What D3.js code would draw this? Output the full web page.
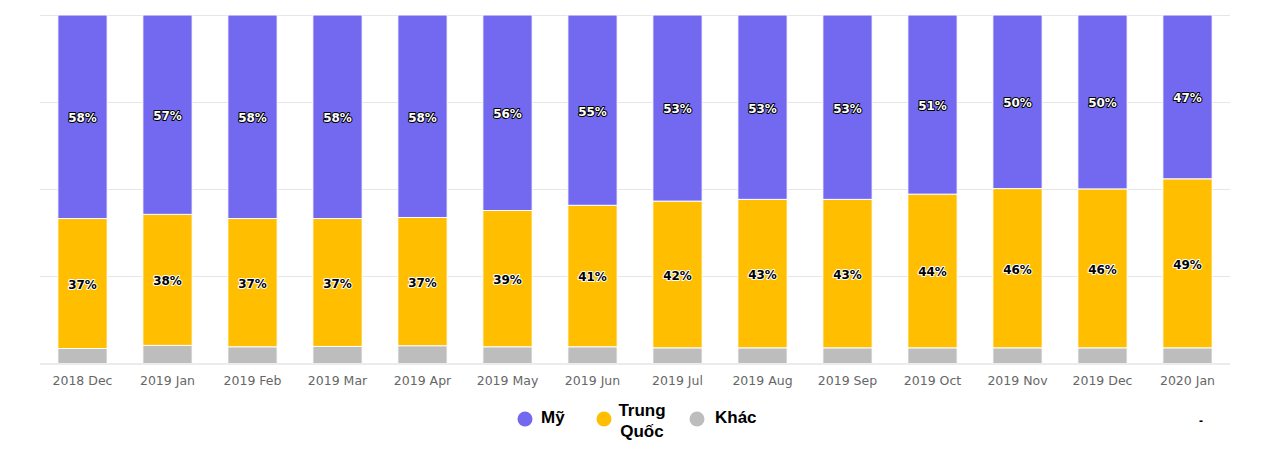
<!DOCTYPE html>
<html>
<head>
<meta charset="utf-8">
<script src="https://cdn.jsdelivr.net/npm/d3@7"></script>
<style>
  html, body { margin: 0; padding: 0; background: #fff; }
  svg { display: block; }
</style>
</head>
<body>
<svg id="chart" width="1262" height="459"></svg>
<script>
const categories = ["2018 Dec","2019 Jan","2019 Feb","2019 Mar","2019 Apr","2019 May","2019 Jun","2019 Jul","2019 Aug","2019 Sep","2019 Oct","2019 Nov","2019 Dec","2020 Jan"];
const seriesNames = ["Mỹ", "Trung Quốc", "Khác"];
const my        = [58.4, 57.2, 58.4, 58.4, 58.1, 56.1, 54.6, 53.4, 52.9, 52.9, 51.4, 49.8, 49.9, 47.0];
const trungQuoc = [37.3, 37.6, 36.8, 36.7, 36.8, 39.1, 40.6, 42.1, 42.6, 42.6, 44.1, 45.7, 45.6, 48.5];
const khac      = [4.3, 5.2, 4.8, 4.9, 5.1, 4.8, 4.8, 4.5, 4.5, 4.5, 4.5, 4.5, 4.5, 4.5];
const yTicks = [0, 25, 50, 75, 100];
const colors = ["#7369F0", "#FFBF00", "#BDBDBD"];

(function () {
const svg = d3.select("#chart");
const pLeft = 40, pRight = 1230, pTop = 15, pBottom = 363.5;

const x = d3.scaleBand().domain(categories).range([pLeft, pRight]).paddingInner(0.42).paddingOuter(0.21);
const y = d3.scaleLinear().domain([0, 100]).range([pBottom, pTop]);

// gridlines
svg.append("g").selectAll("line").data(yTicks.filter(d => d > 0)).join("line")
  .attr("x1", pLeft).attr("x2", pRight)
  .attr("y1", d => Math.round(y(d)) + 0.5).attr("y2", d => Math.round(y(d)) + 0.5)
  .attr("stroke", "#e6e6e6").attr("stroke-width", 1);

const rows = categories.map((c, i) => ({ cat: c, "Mỹ": my[i], "Trung Quốc": trungQuoc[i], "Khác": khac[i] }));
const stackKeys = ["Khác", "Trung Quốc", "Mỹ"];
const stack = d3.stack().keys(stackKeys).offset(d3.stackOffsetExpand);
const layers = stack(rows);
const colorOf = { "Mỹ": colors[0], "Trung Quốc": colors[1], "Khác": colors[2] };
const yp = d3.scaleLinear().domain([0, 1]).range([pBottom, pTop]);

const g = svg.append("g");
layers.forEach(layer => {
  g.append("g").selectAll("rect").data(layer).join("rect")
    .attr("x", d => x(d.data.cat))
    .attr("width", x.bandwidth())
    .attr("y", d => yp(d[1]))
    .attr("height", d => yp(d[0]) - yp(d[1]))
    .attr("fill", colorOf[layer.key])
    .attr("stroke", "#ffffff").attr("stroke-width", 1);
});

// baseline
svg.append("line").attr("x1", pLeft).attr("x2", pRight)
  .attr("y1", pBottom + 0.5).attr("y2", pBottom + 0.5)
  .attr("stroke", "#d8d8d8").attr("stroke-width", 1);

// data labels
const labelFont = "'DejaVu Sans', sans-serif";
layers.filter(l => l.key !== "Khác").forEach(layer => {
  const isMy = layer.key === "Mỹ";
  g.append("g").selectAll("text").data(layer).join("text")
    .attr("x", d => x(d.data.cat) + x.bandwidth() / 2)
    .attr("y", d => (yp(d[0]) + yp(d[1])) / 2)
    .attr("dy", "0.45em")
    .attr("text-anchor", "middle")
    .attr("font-family", labelFont)
    .attr("font-size", "12px")
    .attr("font-weight", "bold")
    .attr("fill", isMy ? "#ffffff" : "#000000")
    .attr("stroke", isMy ? "#000000" : "#ffffff")
    .attr("stroke-width", 2)
    .attr("stroke-linejoin", "round")
    .attr("paint-order", "stroke")
    .text(d => Math.round((d[1] - d[0]) * 100) + "%");
});

// x axis labels
const xAxis = d3.axisBottom(x).tickSize(0).tickPadding(13);
const ax = svg.append("g").attr("transform", `translate(0,${pBottom})`).call(xAxis);
ax.select(".domain").remove();
ax.selectAll("text")
  .attr("font-family", labelFont)
  .attr("font-size", "12.5px")
  .attr("fill", "#666666");

// legend
const legend = svg.append("g").attr("font-family", "'Liberation Sans', Arial, sans-serif")
  .attr("font-weight", "bold").attr("font-size", "17px").attr("fill", "#000");
const legendItems = [
  { cx: 525, tx: 541, lines: ["Mỹ"] },
  { cx: 604, tx: 642, lines: ["Trung", "Quốc"], center: true },
  { cx: 697, tx: 715, lines: ["Khác"] }
];
legendItems.forEach((it, i) => {
  legend.append("circle").attr("cx", it.cx).attr("cy", 419).attr("r", 7.5).attr("fill", colors[i]);
  const t = legend.append("text")
    .attr("x", it.tx)
    .attr("text-anchor", it.center ? "middle" : "start");
  if (it.lines.length === 1) {
    t.attr("y", 423).text(seriesNames[i]);
  } else {
    t.append("tspan").attr("x", it.tx).attr("y", 416).text(it.lines[0]);
    t.append("tspan").attr("x", it.tx).attr("y", 437).text(it.lines[1]);
  }
});

// small dash at bottom right
svg.append("text").attr("x", 1201).attr("y", 425).attr("text-anchor", "middle")
  .attr("font-family", "'Liberation Sans', Arial, sans-serif").attr("font-size", "12px")
  .attr("font-weight", "bold").attr("fill", "#000").text("-");
})();
</script>
</body>
</html>
